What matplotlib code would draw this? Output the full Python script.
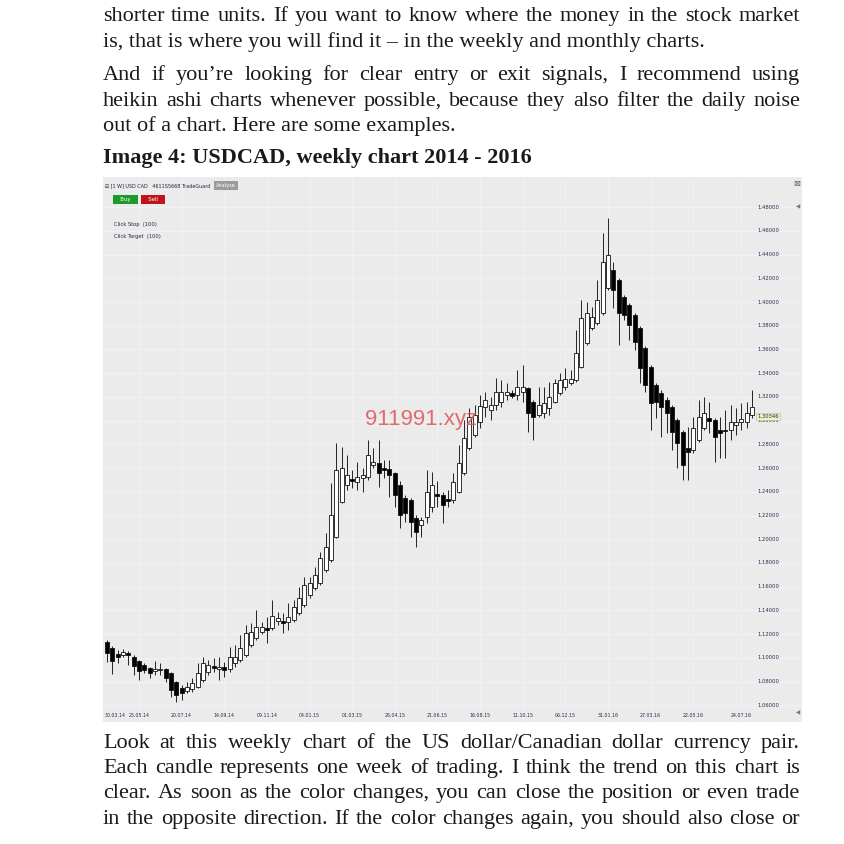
import matplotlib.pyplot as plt
import numpy as np
from datetime import date

W = H = 844

# weekly heikin ashi candles, USDCAD 13.04.14 - 31.07.16
opens = [
    1.1134, 1.1084, 1.1033, 1.1024, 1.1041, 1.1008, 1.0974, 1.0940, 1.0915, 1.0889,
    1.0898, 1.0906, 1.0873, 1.0797, 1.0746, 1.0721, 1.0738, 1.0755, 1.0814, 1.0881,
    1.0932, 1.0906, 1.0923, 1.0906, 1.0957, 1.0982, 1.1024, 1.1109, 1.1168, 1.1218,
    1.1252, 1.1252, 1.1311, 1.1311, 1.1303, 1.1319, 1.1378, 1.1446, 1.1530, 1.1589,
    1.1631, 1.1741, 1.1825, 1.2019, 1.2314, 1.2457, 1.2508, 1.2483, 1.2516, 1.2525,
    1.2626, 1.2643, 1.2601, 1.2592, 1.2559, 1.2457, 1.2348, 1.2331, 1.2179, 1.2120,
    1.2187, 1.2272, 1.2381, 1.2373, 1.2339, 1.2331, 1.2398, 1.2559, 1.2769, 1.2879,
    1.2989, 1.3115, 1.3090, 1.3132, 1.3157, 1.3216, 1.3233, 1.3216, 1.3241, 1.3275,
    1.3157, 1.3048, 1.3064, 1.3107, 1.3157, 1.3233, 1.3284, 1.3317, 1.3343, 1.3452,
    1.3655, 1.3781, 1.3823, 1.3907, 1.4118, 1.4270, 1.4186, 1.4042, 1.3975, 1.3891,
    1.3781, 1.3612, 1.3452, 1.3300, 1.3233, 1.3174, 1.3115, 1.3005, 1.2904, 1.2769,
    1.2753, 1.2837, 1.2938, 1.3022, 1.3005, 1.2921, 1.2921, 1.2921, 1.2963, 1.2989,
    1.2989, 1.3048]
closes = [
    1.1041, 1.0974, 1.1008, 1.1050, 1.1024, 1.0932, 1.0889, 1.0898, 1.0873, 1.0906,
    1.0906, 1.0831, 1.0729, 1.0687, 1.0704, 1.0755, 1.0788, 1.0873, 1.0957, 1.0940,
    1.0915, 1.0923, 1.0898, 1.1008, 1.1008, 1.1084, 1.1210, 1.1218, 1.1260, 1.1260,
    1.1235, 1.1353, 1.1336, 1.1294, 1.1345, 1.1429, 1.1505, 1.1614, 1.1631, 1.1699,
    1.1842, 1.1935, 1.2205, 1.2584, 1.2601, 1.2542, 1.2491, 1.2525, 1.2542, 1.2710,
    1.2651, 1.2559, 1.2584, 1.2542, 1.2373, 1.2205, 1.2221, 1.2146, 1.2061, 1.2162,
    1.2398, 1.2457, 1.2365, 1.2289, 1.2323, 1.2483, 1.2643, 1.2854, 1.3031, 1.3048,
    1.3123, 1.3174, 1.3132, 1.3241, 1.3241, 1.3241, 1.3208, 1.3284, 1.3284, 1.3064,
    1.3031, 1.3132, 1.3149, 1.3199, 1.3317, 1.3343, 1.3350, 1.3350, 1.3570, 1.3865,
    1.3907, 1.3874, 1.4017, 1.4337, 1.4396, 1.4101, 1.3907, 1.3891, 1.3806, 1.3663,
    1.3444, 1.3300, 1.3149, 1.3157, 1.3115, 1.3064, 1.2904, 1.2812, 1.2626, 1.2735,
    1.2938, 1.3031, 1.3064, 1.2997, 1.2862, 1.2896, 1.2913, 1.2989, 1.2989, 1.3014,
    1.3064, 1.3115]
highs = [
    1.1151, 1.1100, 1.1067, 1.1075, 1.1058, 1.1024, 1.0982, 1.0957, 1.0923, 1.0974,
    1.0957, 1.0915, 1.0881, 1.0805, 1.0771, 1.0797, 1.0831, 1.0957, 1.1008, 1.0982,
    1.0999, 1.1008, 1.0965, 1.1092, 1.1109, 1.1193, 1.1277, 1.1294, 1.1404, 1.1303,
    1.1345, 1.1488, 1.1387, 1.1378, 1.1463, 1.1488, 1.1598, 1.1682, 1.1682, 1.1766,
    1.1893, 1.2053, 1.2474, 1.2812, 1.2778, 1.2710, 1.2584, 1.2651, 1.2601, 1.2837,
    1.2769, 1.2837, 1.2668, 1.2668, 1.2567, 1.2491, 1.2373, 1.2348, 1.2205, 1.2187,
    1.2584, 1.2567, 1.2491, 1.2398, 1.2415, 1.2559, 1.2795, 1.3005, 1.3107, 1.3132,
    1.3216, 1.3241, 1.3199, 1.3359, 1.3343, 1.3317, 1.3258, 1.3427, 1.3469, 1.3284,
    1.3174, 1.3284, 1.3284, 1.3326, 1.3350, 1.3402, 1.3444, 1.3427, 1.3764, 1.4017,
    1.4000, 1.3958, 1.4186, 1.4581, 1.4708, 1.4337, 1.4202, 1.4059, 1.3992, 1.3907,
    1.3798, 1.3629, 1.3469, 1.3317, 1.3258, 1.3199, 1.3132, 1.3022, 1.2921, 1.2946,
    1.3031, 1.3174, 1.3199, 1.3157, 1.3022, 1.3031, 1.3090, 1.3132, 1.3107, 1.3149,
    1.3157, 1.3258]
lows = [
    1.0965, 1.0864, 1.0957, 1.1008, 1.0940, 1.0856, 1.0814, 1.0873, 1.0831, 1.0856,
    1.0856, 1.0797, 1.0670, 1.0629, 1.0645, 1.0704, 1.0712, 1.0746, 1.0797, 1.0856,
    1.0881, 1.0814, 1.0839, 1.0881, 1.0923, 1.0965, 1.1008, 1.1092, 1.1151, 1.1201,
    1.1126, 1.1235, 1.1277, 1.1210, 1.1235, 1.1303, 1.1361, 1.1429, 1.1505, 1.1572,
    1.1614, 1.1724, 1.1810, 1.2011, 1.2306, 1.2415, 1.2432, 1.2415, 1.2398, 1.2500,
    1.2601, 1.2441, 1.2516, 1.2356, 1.2272, 1.2095, 1.2146, 1.2019, 1.1935, 1.2019,
    1.2137, 1.2230, 1.2272, 1.2137, 1.2272, 1.2306, 1.2390, 1.2542, 1.2753, 1.2862,
    1.2938, 1.3031, 1.3005, 1.3090, 1.3115, 1.3174, 1.3191, 1.3174, 1.3157, 1.2904,
    1.2837, 1.3031, 1.3022, 1.3048, 1.3149, 1.3216, 1.3258, 1.3300, 1.3326, 1.3444,
    1.3638, 1.3764, 1.3806, 1.3890, 1.4101, 1.3950, 1.3638, 1.3848, 1.3680, 1.3596,
    1.3317, 1.3241, 1.2921, 1.3022, 1.2862, 1.2896, 1.2753, 1.2601, 1.2500, 1.2500,
    1.2727, 1.2820, 1.2921, 1.2896, 1.2651, 1.2685, 1.2685, 1.2837, 1.2879, 1.2921,
    1.2938, 1.3022]
first_week = date(2014, 4, 13)
date_labels = ['30.03.14', '25.05.14', '20.07.14', '14.09.14', '09.11.14', '04.01.15',
               '01.03.15', '26.04.15', '21.06.15', '16.08.15', '11.10.15', '06.12.15',
               '31.01.16', '27.03.16', '22.05.16', '24.07.16']
price_ticks = [1.48, 1.46, 1.44, 1.42, 1.40, 1.38, 1.36, 1.34, 1.32, 1.30, 1.28, 1.26,
               1.24, 1.22, 1.20, 1.18, 1.16, 1.14, 1.12, 1.10, 1.08, 1.06]
last_price = 1.30346

para_top = [
    ("shorter time units. If you want to know where the money in the stock market", True),
    ("is, that is where you will find it \u2013 in the weekly and monthly charts.", False),
    ("And if you\u2019re looking for clear entry or exit signals, I recommend using", True),
    ("heikin ashi charts whenever possible, because they also filter the daily noise", True),
    ("out of a chart. Here are some examples.", False),
]
para_bottom = [
    ("Look at this weekly chart of the US dollar/Canadian dollar currency pair.", True),
    ("Each candle represents one week of trading. I think the trend on this chart is", True),
    ("clear. As soon as the color changes, you can close the position or even trade", True),
    ("in the opposite direction. If the color changes again, you should also close or", True),
]
top_baselines = [21, 47, 80, 106, 131]
bottom_baselines = [748, 773, 798, 824]

fig = plt.figure(figsize=(W / 100, H / 100), dpi=100)
fig.patch.set_facecolor('white')
renderer = fig.canvas.get_renderer()

SERIF = 'Liberation Serif'
NARROW = 'Liberation Sans Narrow'
LEFT, RIGHT = 103, 800
TXT = '#1a1a1a'
AXC = '#2a2a55'


def fx(x):
    return x / W


def fy(y):
    return 1 - y / H


def put_line(text, base, justify, size=16, weight='normal'):
    if not justify:
        fig.text(fx(LEFT), fy(base), text, fontsize=size, family=SERIF, color=TXT,
                 weight=weight, va='baseline', ha='left')
        return
    words = text.split(' ')
    arts = [fig.text(0, fy(base), w_, fontsize=size, family=SERIF, weight=weight,
                     color=TXT, va='baseline', ha='left') for w_ in words]
    widths = [a.get_window_extent(renderer).width for a in arts]
    gap = (RIGHT - LEFT - sum(widths)) / (len(words) - 1)
    x = LEFT
    for a, wd in zip(arts, widths):
        a.set_x(fx(x))
        x += wd + gap


for (t, j), b in zip(para_top, top_baselines):
    put_line(t, b, j)
put_line("Image 4: USDCAD, weekly chart 2014 - 2016", 163, False, weight='bold')
for (t, j), b in zip(para_bottom, bottom_baselines):
    put_line(t, b, j)

# chart screenshot area
ax = fig.add_axes([fx(103), fy(722), fx(699), 545 / H])
ax.set_facecolor('#ebebeb')
for s in ax.spines.values():
    s.set_visible(False)
ax.set_xticks([])
ax.set_yticks([])
ax.set_xlim(-0.75, 130.4)
ax.set_ylim(1.0459, 1.5054)

idx = np.arange(len(opens))
o = np.array(opens)
c = np.array(closes)
up = c >= o

# faint grid
for p in price_ticks:
    ax.axhline(p, color='#f3f3f3', lw=0.7, zorder=0)
label_pos = []
for lab in date_labels:
    d, m, y = lab.split('.')
    label_pos.append((date(2000 + int(y), int(m), int(d)) - first_week).days / 7)
for xp in label_pos:
    ax.axvline(xp, color='#f1f1f1', lw=0.7, zorder=0)

ax.vlines(idx, lows, highs, color='#222222', lw=0.7, zorder=2)
bottoms = np.minimum(o, c)
heights = np.maximum(np.abs(c - o), 0.0012)
ax.bar(idx, heights, bottom=bottoms, width=0.75,
       color=np.where(up, 'white', 'black'), edgecolor='#111111', lw=0.6, zorder=3)

# price scale
for p in price_ticks:
    ax.text(122.0, p, f"{p:.5f}", fontsize=3.8, color=AXC, va='center',
            ha='left', family=NARROW, zorder=4)
ax.text(122.0, last_price, f"{last_price:.5f}", fontsize=3.8, color=AXC,
        va='center', ha='left', family=NARROW, zorder=5,
        bbox=dict(boxstyle='square,pad=0.15', fc='#efefc4', ec='#b8b88a', lw=0.4))

# date scale
tr = ax.get_xaxis_transform()
for lab, xp in zip(date_labels, label_pos):
    if xp < 0:
        ax.text(-0.45, 0.012, lab, transform=tr, fontsize=3.4, ha='left', va='center',
                color=AXC, family=NARROW)
    else:
        ax.text(xp, 0.012, lab, transform=tr, fontsize=3.4, ha='center', va='center',
                color=AXC, family=NARROW)

# header of the trading platform
ta = ax.transAxes
ax.text(0.003, 0.984, "\u229f [1 W] USD CAD   4611S5668 TradeGuard", transform=ta,
        fontsize=3.5, color='#222244', va='center', family=NARROW)
ax.text(0.176, 0.984, "Analyse", transform=ta, fontsize=3.6, color='white', va='center',
        ha='center', family=NARROW,
        bbox=dict(boxstyle='square,pad=0.35', fc='#9c9c9c', ec='none'))
ax.text(0.032, 0.958, "   Buy   ", transform=ta, fontsize=3.9, color='white', va='center',
        ha='center', family=NARROW,
        bbox=dict(boxstyle='square,pad=0.35', fc='#1f9a2a', ec='none'))
ax.text(0.072, 0.958, "   Sell   ", transform=ta, fontsize=3.9, color='white', va='center',
        ha='center', family=NARROW,
        bbox=dict(boxstyle='square,pad=0.35', fc='#c0141c', ec='none'))
ax.text(0.016, 0.913, "Click Stop  (100)", transform=ta, fontsize=3.7, color='#222244',
        va='center', family=NARROW)
ax.text(0.016, 0.891, "Click Target  (100)", transform=ta, fontsize=3.7, color='#222244',
        va='center', family=NARROW)
ax.text(0.992, 0.988, "\u22a0", transform=ta, fontsize=6, color='#666666',
        va='center', ha='center')
ax.text(0.995, 0.945, "\u25c0", transform=ta, fontsize=4, color='#777777',
        va='center', ha='center')
ax.text(0.995, 0.017, "\u25c0", transform=ta, fontsize=4, color='#777777',
        va='center', ha='center')

# watermark
fig.text(fx(421), fy(420), "911991.xyz", fontsize=16, color='#e05555',
         alpha=0.85, ha='center', va='center', family='Liberation Sans')

fig.savefig('out.png', dpi=100, facecolor='white')
